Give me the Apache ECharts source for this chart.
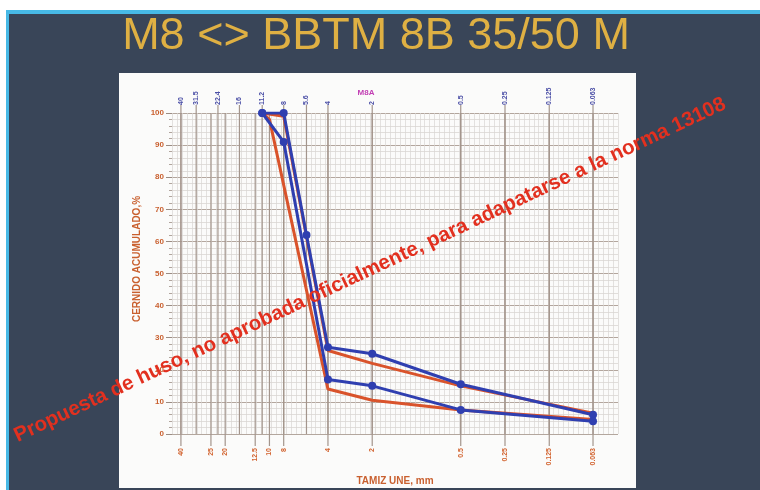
<!DOCTYPE html>
<html>
<head>
<meta charset="utf-8">
<script src="https://cdn.jsdelivr.net/npm/echarts@6/dist/echarts.min.js"></script>
<style>
  html, body { margin: 0; padding: 0; background: #ffffff; }
  #chart { width: 760px; height: 490px; }
</style>
</head>
<body>
<div id="chart"></div>
<script>
// Sieve openings (mm): EN series on top, UNE series at the bottom
const sievesEN = [40, 31.5, 22.4, 16, 11.2, 8, 5.6, 4, 2, 0.5, 0.25, 0.125, 0.063];
const sievesUNE = [40, 25, 20, 12.5, 10, 8, 4, 2, 0.5, 0.25, 0.125, 0.063];

// Grading envelopes: [sieve mm, cumulative passing %]
const blueUpper = [[11.2, 100], [8, 100], [5.6, 62], [4, 27], [2, 25], [0.5, 15.5], [0.063, 6]];
const blueLower = [[11.2, 100], [8, 91], [4, 17], [2, 15], [0.5, 7.5], [0.063, 4]];
const orangeUpper = [[11.2, 100], [8, 99], [4, 26], [2, 22], [0.5, 15], [0.063, 6.5]];
const orangeLower = [[11.2, 100], [10, 98], [4, 14], [2, 10.5], [0.5, 7.5], [0.063, 4.5]];

const titleText = 'M8 <> BBTM 8B 35/50 M';
const stampText = 'Propuesta de huso, no aprobada oficialmente, para adapatarse a la norma 13108';

const chart = echarts.init(document.getElementById('chart'), null, { renderer: 'canvas' });

// Vertical sieve line plus a rotated label above (top) or below (bottom) the plot
function sieveLines(list, atTop, color) {
  return function (params, api) {
    const s = api.value(0);
    const pb = api.coord([s, 0]);
    const pt = api.coord([s, 100]);
    const label = String(list[params.dataIndex]);
    return {
      type: 'group',
      children: [
        {
          type: 'line',
          shape: { x1: pb[0], y1: pb[1] + (atTop ? 0 : 12), x2: pt[0], y2: pt[1] - (atTop ? 8 : 0) },
          style: { stroke: '#a3958c', lineWidth: 1.2 }
        },
        {
          type: 'text',
          x: pb[0],
          y: atTop ? pt[1] - 8 : pb[1] + 14,
          rotation: Math.PI / 2,
          style: {
            text: label,
            fill: color,
            font: 'bold 7px "Liberation Sans", Arial, sans-serif',
            align: atTop ? 'left' : 'right',
            verticalAlign: 'middle'
          }
        }
      ]
    };
  };
}

const option = {
  backgroundColor: '#394558',
  animation: false,
  graphic: [
    { type: 'rect', shape: { x: 0, y: 0, width: 760, height: 10 }, style: { fill: '#ffffff' }, z: -10 },
    { type: 'rect', shape: { x: 0, y: 10, width: 760, height: 4 }, style: { fill: '#47b9e6' }, z: -9 },
    { type: 'rect', shape: { x: 0, y: 0, width: 6, height: 490 }, style: { fill: '#ffffff' }, z: -9 },
    { type: 'rect', shape: { x: 6, y: 10, width: 3, height: 480 }, style: { fill: '#47b9e6' }, z: -8 },
    { type: 'rect', shape: { x: 119, y: 73, width: 517, height: 415 }, style: { fill: '#fbfbfa' }, z: -8 },
    {
      type: 'text', x: 376, y: 37, z: 5,
      style: {
        text: titleText, fill: '#dfb043',
        font: '45px "Liberation Sans", Arial, sans-serif',
        align: 'center', verticalAlign: 'middle'
      }
    },
    {
      type: 'text', x: 366, y: 93, z: 5,
      style: {
        text: 'M8A', fill: '#c23fb4',
        font: 'bold 8px "Liberation Sans", Arial, sans-serif',
        align: 'center', verticalAlign: 'middle'
      }
    },
    {
      type: 'text', x: 137, y: 259, rotation: Math.PI / 2, z: 5,
      style: {
        text: 'CERNIDO ACUMULADO,%', fill: '#c9602f',
        font: 'bold 10px "Liberation Sans", Arial, sans-serif',
        align: 'center', verticalAlign: 'middle'
      }
    },
    {
      type: 'text', x: 395, y: 481, z: 5,
      style: {
        text: 'TAMIZ UNE, mm', fill: '#c9602f',
        font: 'bold 10px "Liberation Sans", Arial, sans-serif',
        align: 'center', verticalAlign: 'middle'
      }
    },
    {
      type: 'text', x: 370, y: 270, rotation: 0.44, z: 100,
      style: {
        text: stampText, fill: '#e2301f',
        font: 'bold 20.5px "Liberation Sans", Arial, sans-serif',
        align: 'center', verticalAlign: 'middle'
      }
    }
  ],
  grid: { left: 172, right: 142, top: 113, bottom: 56, containLabel: false },
  xAxis: [
    {
      type: 'log', logBase: 10, inverse: true, min: 0.0426, max: 46,
      axisLine: { show: false }, axisTick: { show: false }, axisLabel: { show: false },
      splitLine: { show: false }, minorTick: { show: false }, minorSplitLine: { show: false }
    },
    {
      // fine paper grid across the plot
      type: 'value', position: 'top', min: 0, max: 90, interval: 1,
      axisLine: { show: false }, axisTick: { show: false }, axisLabel: { show: false },
      splitLine: { show: true, lineStyle: { color: '#d9d5d2', width: 0.7 } }
    }
  ],
  yAxis: {
    type: 'value', min: 0, max: 100, interval: 10,
    axisLine: { show: false },
    axisTick: { show: true, length: 6, lineStyle: { color: '#9a8b82' } },
    minorTick: { show: true, splitNumber: 5, length: 3, lineStyle: { color: '#b0a49c' } },
    axisLabel: {
      color: '#c9602f', fontSize: 8, fontWeight: 'bold', margin: 8,
      fontFamily: '"Liberation Sans", Arial, sans-serif'
    },
    splitLine: { show: true, lineStyle: { color: '#b3a69d', width: 1.2 } },
    minorSplitLine: { show: true, lineStyle: { color: '#d6d1cd', width: 0.7 } }
  },
  series: [
    {
      type: 'custom', name: 'EN', xAxisIndex: 0, silent: true, z: 1,
      renderItem: sieveLines(sievesEN, true, '#4b4fa6'),
      data: sievesEN.map(s => [s])
    },
    {
      type: 'custom', name: 'UNE', xAxisIndex: 0, silent: true, z: 1,
      renderItem: sieveLines(sievesUNE, false, '#d2632f'),
      data: sievesUNE.map(s => [s])
    },
    {
      type: 'line', name: 'orangeUpper', data: orangeUpper, symbol: 'none', z: 3,
      lineStyle: { color: '#d9532b', width: 3 }
    },
    {
      type: 'line', name: 'orangeLower', data: orangeLower, symbol: 'none', z: 3,
      lineStyle: { color: '#d9532b', width: 3 }
    },
    {
      type: 'line', name: 'blueUpper', data: blueUpper, symbol: 'circle', symbolSize: 8, z: 4,
      lineStyle: { color: '#2f3fb0', width: 3 }, itemStyle: { color: '#2f3fb0' }
    },
    {
      type: 'line', name: 'blueLower', data: blueLower, symbol: 'circle', symbolSize: 8, z: 4,
      lineStyle: { color: '#2f3fb0', width: 3 }, itemStyle: { color: '#2f3fb0' }
    }
  ]
};

chart.setOption(option);
</script>
</body>
</html>
